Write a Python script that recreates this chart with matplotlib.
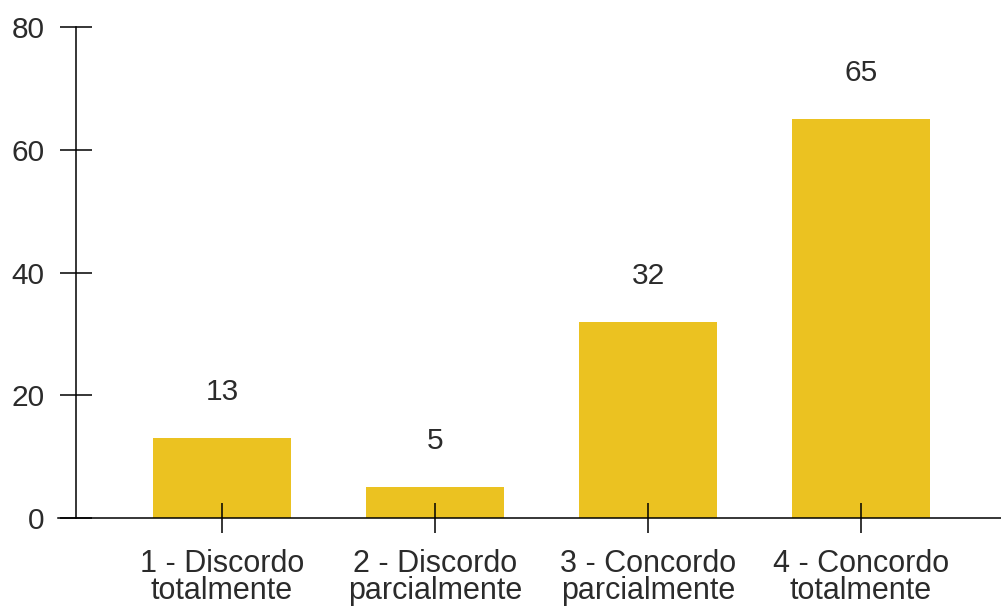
import matplotlib
matplotlib.use('Agg')
from matplotlib import pyplot as plt
import numpy as np

plt.rcParams['font.family'] = ['Liberation Sans', 'DejaVu Sans']

# data
categories = ['1 - Discordo\ntotalmente', '2 - Discordo\nparcialmente',
              '3 - Concordo\nparcialmente', '4 - Concordo\ntotalmente']
values = [13, 5, 32, 65]
yticks = [0, 20, 40, 60, 80]

bar_color = '#EBC221'
text_color = '#2b2b2b'

fig = plt.figure(figsize=(10.01, 6.08), dpi=100)
ax = fig.add_axes([0.0759, 0.148, 0.9241, 0.8076])

x = np.arange(len(categories))
ax.bar(x, values, width=0.65, color=bar_color, zorder=1)

for xi, v in zip(x, values):
    ax.annotate(str(v), (xi, v), xytext=(0, 33), textcoords='offset points',
                ha='center', va='center', fontsize=21.5, color=text_color)

x_left = -0.685
x_right = 3.657
ax.set_xlim(x_left, x_right)
ax.set_ylim(0, 80)

ax.set_xticks(x)
ax.set_xticklabels(categories, fontsize=22, color=text_color, linespacing=0.9)
ax.set_yticks(yticks)
ax.set_yticklabels([str(t) for t in yticks], fontsize=21.5, color=text_color)

ax.tick_params(axis='y', direction='inout', length=23, width=1.1, pad=11)
ax.tick_params(axis='x', direction='inout', length=22, width=1.1, pad=11)

for s in ['top', 'right']:
    ax.spines[s].set_visible(False)
ax.spines['left'].set_linewidth(1.1)
ax.spines['bottom'].set_linewidth(1.1)
# the x axis line sticks out a little to the left of the y axis
ax.spines['bottom'].set_bounds(x_left - 18 / 213, x_right)
ax.spines['bottom'].set_clip_on(False)
ax.spines['bottom'].set_zorder(3)

fig.savefig('out.png', dpi=100)
